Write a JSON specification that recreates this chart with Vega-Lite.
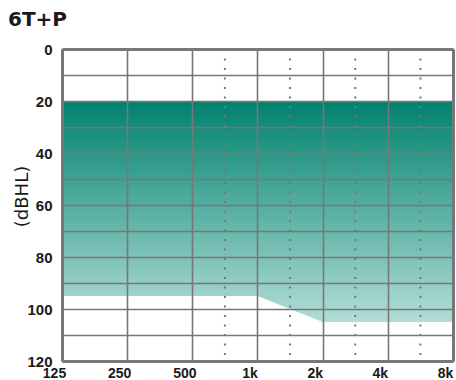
{
  "$schema": "https://vega.github.io/schema/vega-lite/v6.json",
  "width": 391,
  "height": 312,
  "autosize": "none",
  "padding": {"left": 62, "top": 49, "right": 3, "bottom": 19},
  "background": "white",
  "title": {
    "text": "6T+P",
    "anchor": "start",
    "frame": "group",
    "font": "DejaVu Sans",
    "fontSize": 20,
    "fontWeight": "bold",
    "color": "#1a1a1a",
    "dx": -54,
    "dy": 12,
    "baseline": "alphabetic",
    "offset": 8
  },
  "config": {
    "view": {"stroke": null},
    "axis": {
      "gridColor": "#777777",
      "gridWidth": 1.6,
      "gridOpacity": 1,
      "domainColor": "#777777",
      "domainWidth": 3,
      "ticks": false,
      "labelFont": "Liberation Sans",
      "labelFontWeight": "bold",
      "labelFontSize": 15,
      "labelColor": "#1a1a1a",
      "zindex": 1
    }
  },
  "resolve": {"axis": {"x": "independent", "y": "independent"}},
  "layer": [
    {
      "data": {"values": [
        {"freq": 125, "lower": 95, "upper": 20},
        {"freq": 1000, "lower": 95, "upper": 20},
        {"freq": 2000, "lower": 105, "upper": 20},
        {"freq": 8000, "lower": 105, "upper": 20}
      ]},
      "mark": {
        "type": "area",
        "color": {
          "gradient": "linear",
          "x1": 0, "y1": 0, "x2": 0, "y2": 1,
          "stops": [
            {"offset": 0, "color": "#00826e"},
            {"offset": 1, "color": "#b2ddd7"}
          ]
        }
      },
      "encoding": {
        "x": {
          "field": "freq",
          "type": "quantitative",
          "scale": {"type": "log", "domain": [125, 8000], "nice": false},
          "axis": {
            "orient": "bottom",
            "title": null,
            "zindex": 1,
            "values": [125, 250, 500, 1000, 2000, 4000, 8000],
            "labelExpr": "datum.value >= 1000 ? format(datum.value / 1000, 'd') + 'k' : format(datum.value, 'd')",
            "labelFontSize": 14,
            "labelPadding": 5,
            "labelOffset": -8,
            "labelFlush": false,
            "grid": true,
            "domain": true
          }
        },
        "y": {
          "field": "lower",
          "type": "quantitative",
          "scale": {"domain": [0, 120], "reverse": true, "nice": false},
          "axis": {
            "orient": "left",
            "zindex": 1,
            "values": [0, 10, 20, 30, 40, 50, 60, 70, 80, 90, 100, 110, 120],
            "labelExpr": "datum.value % 20 == 0 ? format(datum.value, 'd') : ''",
            "labelPadding": 10,
            "labelOffset": 0,
            "labelFlush": false,
            "grid": true,
            "domain": true,
            "title": "(dBHL)",
            "titleFont": "DejaVu Sans",
            "titleFontSize": 18,
            "titleFontWeight": "normal",
            "titleColor": "#1a1a1a",
            "titleAngle": -90,
            "titleX": -40,
            "titleY": 147,
            "titleBaseline": "middle",
            "titleAlign": "center"
          }
        },
        "y2": {"field": "upper"}
      }
    },
    {
      "data": {"values": [
        {"freq": 707},
        {"freq": 1414},
        {"freq": 2828},
        {"freq": 5657}
      ]},
      "mark": {"type": "rule", "color": "#777777", "strokeWidth": 2, "strokeDash": [2, 7.5]},
      "encoding": {
        "x": {
          "field": "freq",
          "type": "quantitative",
          "axis": {"orient": "top", "zindex": 1, "title": null, "labels": false, "grid": false, "domain": true, "values": []}
        },
        "y": {
          "datum": 0,
          "type": "quantitative",
          "axis": {"orient": "right", "zindex": 1, "title": null, "labels": false, "grid": false, "domain": true, "values": []}
        },
        "y2": {"datum": 120}
      }
    }
  ]
}
